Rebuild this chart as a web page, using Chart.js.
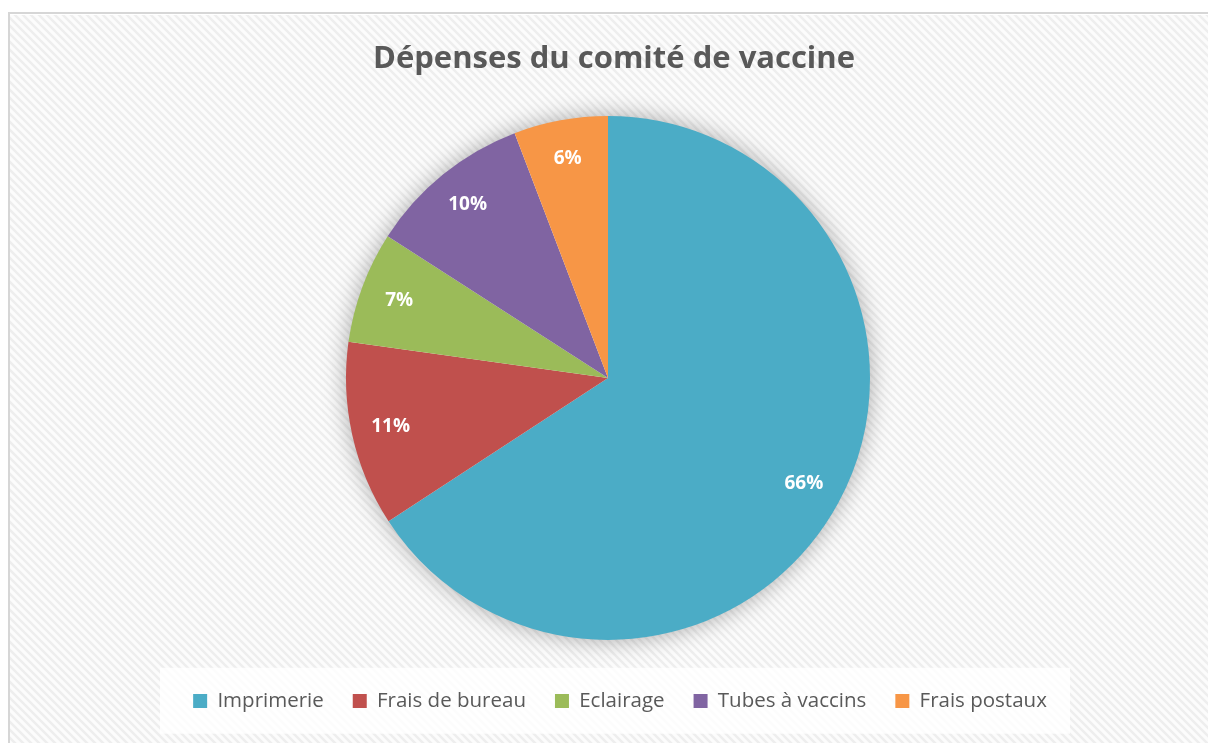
<!DOCTYPE html>
<html>
<head>
<meta charset="utf-8">
<script src="https://cdn.jsdelivr.net/npm/chart.js@4"></script>
<style>
  html, body { margin: 0; padding: 0; background: #ffffff; }
  #wrap { position: absolute; left: 0; top: 0; width: 1208px; height: 743px; }
</style>
</head>
<body>
<div id="wrap"><canvas id="myChart" width="1208" height="743"></canvas></div>
<script>
const categories = ["Imprimerie", "Frais de bureau", "Eclairage", "Tubes à vaccins", "Frais postaux"];
const values = [65.8, 11.4, 6.9, 10.1, 5.8];
const sliceColors = ["#4BACC6", "#C0504D", "#9BBB59", "#8064A2", "#F79646"];
const chartTitle = "Dépenses du comité de vaccine";

// fond hachuré façon Excel
function makeHatch() {
    const c = document.createElement("canvas");
    c.width = 8; c.height = 8;
    const g = c.getContext("2d");
    g.fillStyle = "#fcfcfc";
    g.fillRect(0, 0, 8, 8);
    g.strokeStyle = "#eeeeee";
    g.lineWidth = 2.5;
    g.beginPath();
    g.moveTo(-2, -2); g.lineTo(10, 10);
    g.moveTo(-6, 2); g.lineTo(2, 10);
    g.moveTo(6, -2); g.lineTo(10, 2);
    g.stroke();
    return g.createPattern(c, "repeat");
}

const backgroundPlugin = {
    id: "fond",
    afterLayout(chart) {
        // titre et légende d'Excel un peu décalés vers la droite
        chart.legend.left += 12;
        chart.legend.right += 12;
        chart.titleBlock.left += 6;
        chart.titleBlock.right += 6;
    },
    beforeDraw(chart) {
        const ctx = chart.ctx;
        ctx.save();
        ctx.fillStyle = makeHatch();
        ctx.fillRect(10, 15, chart.width - 10, chart.height - 15);
        ctx.strokeStyle = "#d6d6d6";
        ctx.lineWidth = 2;
        ctx.beginPath();
        ctx.moveTo(9, chart.height);
        ctx.lineTo(9, 13);
        ctx.lineTo(chart.width, 13);
        ctx.stroke();
        // boîte blanche de la légende
        const lg = chart.legend;
        const mid = (lg.left + lg.right) / 2;
        const textY = lg.top + 29 + 10;
        ctx.fillStyle = "rgba(255,255,255,0.8)";
        ctx.fillRect(mid - 460, textY - 33, 910, 66);
        ctx.restore();
    }
};

const shadowPlugin = {
    id: "ombre",
    beforeDatasetsDraw(chart) {
        const arc = chart.getDatasetMeta(0).data[0];
        if (!arc) return;
        const ctx = chart.ctx;
        ctx.save();
        ctx.shadowColor = "rgba(0,0,0,0.35)";
        ctx.shadowBlur = 24;
        ctx.fillStyle = "#ffffff";
        ctx.beginPath();
        ctx.arc(arc.x, arc.y, arc.outerRadius - 1, 0, Math.PI * 2);
        ctx.fill();
        ctx.restore();
    }
};

const labelPlugin = {
    id: "etiquettes",
    afterDatasetsDraw(chart) {
        const ctx = chart.ctx;
        const data = chart.data.datasets[0].data;
        const total = data.reduce((a, b) => a + b, 0);
        ctx.save();
        ctx.fillStyle = "#ffffff";
        ctx.font = "bold 19px 'Open Sans'";
        ctx.textAlign = "center";
        ctx.textBaseline = "middle";
        chart.getDatasetMeta(0).data.forEach((arc, i) => {
            const mid = (arc.startAngle + arc.endAngle) / 2;
            const r = arc.outerRadius * 0.85;
            const pct = Math.round(data[i] / total * 100) + "%";
            ctx.fillText(pct, arc.x + Math.cos(mid) * r, arc.y + Math.sin(mid) * r);
        });
        ctx.restore();
    }
};

new Chart(document.getElementById("myChart"), {
    type: "pie",
    data: {
        labels: categories,
        datasets: [{
            data: values,
            backgroundColor: sliceColors,
            borderWidth: 0,
            radius: 262
        }]
    },
    options: {
        responsive: false,
        animation: false,
        layout: { padding: { left: 8, right: 0, top: 0, bottom: 21.75 } },
        plugins: {
            title: {
                display: true,
                text: chartTitle,
                color: "#595959",
                font: { family: "'Open Sans'", size: 31, weight: "bold" },
                padding: { top: 41, bottom: 16 }
            },
            legend: {
                position: "bottom",
                labels: {
                    color: "#595959",
                    font: { family: "'Open Sans'", size: 20.5 },
                    boxWidth: 14,
                    boxHeight: 14,
                    padding: 29
                }
            },
            tooltip: { enabled: false }
        }
    },
    plugins: [backgroundPlugin, shadowPlugin, labelPlugin]
});
</script>
</body>
</html>
